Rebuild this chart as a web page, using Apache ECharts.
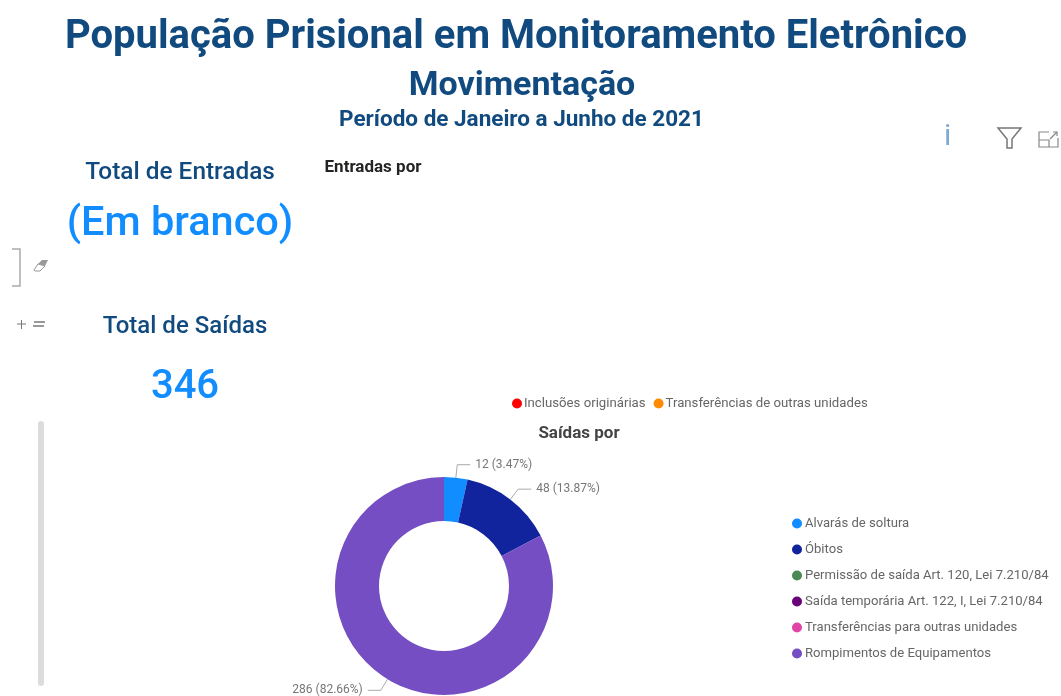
<!DOCTYPE html>
<html><head><meta charset="utf-8">
<style>html,body{margin:0;padding:0;background:#fff}#c{width:1061px;height:696px}</style>
<script src="https://cdn.jsdelivr.net/npm/echarts@6/dist/echarts.min.js"></script>
</head><body><div id="c"></div>
<script>
const entradaCategories = ['Inclusões originárias', 'Transferências de outras unidades'];
const entradaValues = [0, 0];
const entradaColors = ['#ff0000', '#ff8c00'];
const saidaCategories = ['Alvarás de soltura', 'Óbitos', 'Permissão de saída Art. 120, Lei 7.210/84', 'Saída temporária Art. 122, I, Lei 7.210/84', 'Transferências para outras unidades', 'Rompimentos de Equipamentos'];
const saidaValues = [12, 48, 0, 0, 0, 286];
const saidaColors = ['#118dff', '#12239e', '#4a8a55', '#6b007b', '#e044a7', '#744ec2'];
const font = 'Roboto';
const navy = '#114a7e';
const t = (text, cx, top, size, color, weight) => ({text, left: cx, top, textAlign: 'center', textStyle: {fontFamily: font, fontSize: size, color, fontWeight: weight}});
const chart = echarts.init(document.getElementById('c'), null, {renderer: 'canvas'});
chart.setOption({
  animation: false,
  backgroundColor: '#fff',
  title: [
    t('População Prisional em Monitoramento Eletrônico', 511, 13, 40, navy, 'bold'),
    t('Movimentação', 517, 64, 34, navy, 'bold'),
    t('Período de Janeiro a Junho de 2021', 516.5, 104, 22.5, navy, 'bold'),
    t('Total de Entradas', 175, 156, 24.4, navy, 500),
    t('(Em branco)', 175, 199, 41.5, '#118dff', 500),
    t('Total de Saídas', 180, 310, 24, navy, 500),
    t('346', 180, 363, 40, '#118dff', 500),
    t('Entradas por', 368, 154, 17, '#252423', 'bold'),
    t('Saídas por', 574, 420, 17, '#444', 'bold')
  ],
  legend: [
    {data: entradaCategories, left: 507, top: 392, itemWidth: 10, itemHeight: 10, itemGap: 8, icon: 'circle',
     textStyle: {fontFamily: font, fontSize: 13.2, color: '#666', padding: [0, 0, 0, -3]}},
    {data: saidaCategories, orient: 'vertical', left: 787, top: 512, itemWidth: 10, itemHeight: 10, itemGap: 13, icon: 'circle',
     textStyle: {fontFamily: font, fontSize: 13.1, color: '#666', padding: [0, 0, 0, -2]}}
  ],
  series: [
    {type: 'pie', silent: true, radius: [0, 0], center: [520, 300], stillShowZeroSum: false, label: {show: false}, labelLine: {show: false},
     data: entradaCategories.map((name, i) => ({name, value: entradaValues[i], itemStyle: {color: entradaColors[i]}}))},
    {type: 'pie', silent: true, radius: [65, 109], center: [444, 586], startAngle: 90, clockwise: true,
     label: {formatter: '{c} ({d}%)', fontFamily: font, fontSize: 12, color: '#777'},
     labelLine: {length: 13, length2: 13, lineStyle: {color: '#aaa', width: 1}},
     data: saidaCategories.map((name, i) => ({name, value: saidaValues[i], itemStyle: {color: saidaColors[i]},
       label: {show: saidaValues[i] > 0}, labelLine: {show: saidaValues[i] > 0}}))}
  ],
  graphic: [
    {type: 'rect', shape: {x: 38, y: 421, width: 6, height: 265, r: 3}, style: {fill: '#dcdcdc'}},
    {type: 'polyline', shape: {points: [[12, 249], [20, 249], [20, 286], [12, 286]]}, style: {stroke: '#aaa', lineWidth: 1.5, fill: null}},
    {type: 'polygon', shape: {points: [[38, 264], [42, 260], [48, 260], [45, 266]]}, style: {fill: '#999'}},
    {type: 'polygon', shape: {points: [[34, 270], [38, 264], [45, 266], [40, 271], [35, 271]]}, style: {fill: '#fff', stroke: '#999', lineWidth: 1}},
    {type: 'polyline', shape: {points: [[17, 324], [26, 324]]}, style: {stroke: '#777', lineWidth: 1}},
    {type: 'polyline', shape: {points: [[21.5, 320], [21.5, 329]]}, style: {stroke: '#777', lineWidth: 1}},
    {type: 'polyline', shape: {points: [[34, 322], [45, 322]]}, style: {stroke: '#777', lineWidth: 1.5}},
    {type: 'polyline', shape: {points: [[33, 326], [44, 326]]}, style: {stroke: '#777', lineWidth: 1.5}},
    {type: 'text', left: 944, top: 122, style: {text: 'i', fontFamily: font, fontSize: 30, fill: '#7fa9cf'}},
    {type: 'polygon', shape: {points: [[998, 128], [1021, 128], [1012, 139], [1012, 148], [1007, 148], [1007, 139]]}, style: {fill: 'none', stroke: '#777', lineWidth: 1.5}},
    {type: 'polyline', shape: {points: [[1049, 132], [1039, 132], [1039, 147], [1058, 147], [1058, 138]]}, style: {stroke: '#888', lineWidth: 1.2, fill: null}},
    {type: 'polyline', shape: {points: [[1039, 140], [1049, 140], [1049, 147]]}, style: {stroke: '#888', lineWidth: 1.2, fill: null}},
    {type: 'polyline', shape: {points: [[1050, 139], [1057, 132]]}, style: {stroke: '#888', lineWidth: 1.2, fill: null}},
    {type: 'polyline', shape: {points: [[1053, 132], [1057, 132], [1057, 136]]}, style: {stroke: '#888', lineWidth: 1.2, fill: null}}
  ]
});
</script></body></html>
